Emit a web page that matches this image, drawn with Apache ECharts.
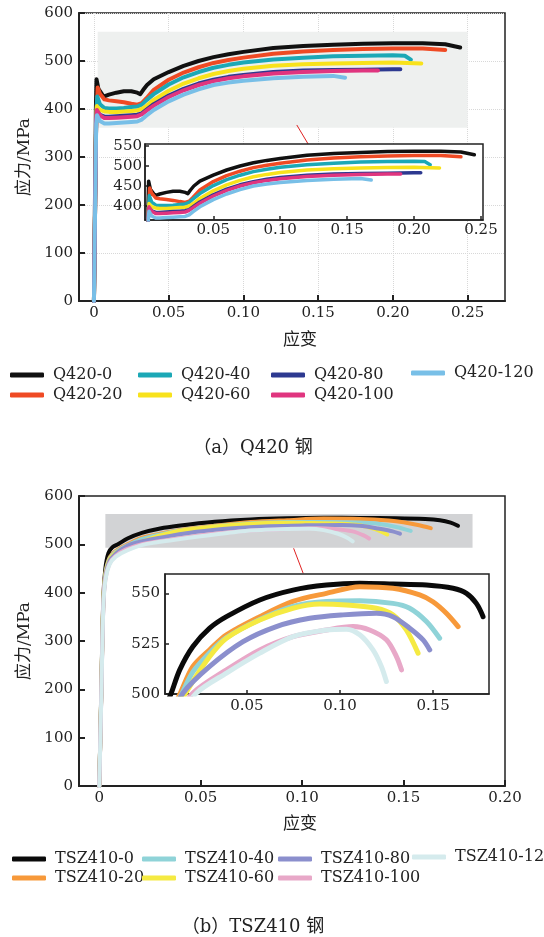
<!DOCTYPE html>
<html><head><meta charset="utf-8">
<script src="https://cdn.jsdelivr.net/npm/echarts@6/dist/echarts.min.js"></script>
<style>html,body{margin:0;padding:0;background:#fff}#c{width:544px;height:937px}</style>
</head><body><div id="c"></div>
<script>
// ---------- DATA : panel (a) Q420 ----------
const namesA = ['Q420-0','Q420-20','Q420-40','Q420-60','Q420-80','Q420-100','Q420-120'];
const q420_0 = [[0,0],[0.0013,400],[0.0017,462],[0.003,442],[0.0065,426],[0.01,430],[0.015,434],[0.02,437],[0.025,437],[0.029,434],[0.031,431],[0.033,440],[0.0355,450],[0.04,462],[0.05,477],[0.06,490],[0.07,500],[0.08,508],[0.09,514],[0.10,519],[0.12,527],[0.14,531],[0.16,534],[0.18,536],[0.20,537],[0.22,537],[0.235,535],[0.245,528]];
const q420_20 = [[0,0],[0.0015,380],[0.0025,445],[0.004,432],[0.007,420],[0.01,418],[0.015,416],[0.02,414],[0.025,411],[0.029,409],[0.032,412],[0.035,422],[0.04,440],[0.05,461],[0.06,476],[0.07,487],[0.08,496],[0.09,502],[0.10,507],[0.12,515],[0.14,520],[0.16,523],[0.18,525],[0.20,526],[0.22,526],[0.235,523]];
const q420_40 = [[0,0],[0.0015,380],[0.0022,426],[0.004,410],[0.007,402],[0.01,401],[0.015,401],[0.02,402],[0.025,404],[0.029,405],[0.032,409],[0.035,418],[0.04,431],[0.05,451],[0.06,466],[0.07,477],[0.08,486],[0.09,492],[0.10,497],[0.12,503],[0.14,507],[0.16,510],[0.18,511],[0.20,512],[0.208,511],[0.212,503]];
const q420_60 = [[0,0],[0.0015,380],[0.002,406],[0.004,398],[0.007,395],[0.01,394],[0.015,394],[0.02,395],[0.025,396],[0.029,397],[0.032,400],[0.035,406],[0.04,419],[0.05,438],[0.06,453],[0.07,464],[0.08,473],[0.09,479],[0.10,484],[0.12,490],[0.14,493],[0.16,495],[0.18,496],[0.20,497],[0.219,495]];
const q420_80 = [[0,0],[0.0015,375],[0.002,395],[0.004,388],[0.007,384],[0.01,384],[0.015,385],[0.02,386],[0.025,387],[0.029,388],[0.032,391],[0.035,398],[0.04,410],[0.05,428],[0.06,442],[0.07,453],[0.08,461],[0.09,467],[0.10,471],[0.12,477],[0.14,480],[0.16,481],[0.18,482],[0.20,483],[0.205,483]];
const q420_100 = [[0,0],[0.0015,380],[0.002,398],[0.004,387],[0.007,381],[0.01,381],[0.015,382],[0.02,383],[0.025,384],[0.029,385],[0.032,389],[0.035,396],[0.04,407],[0.05,425],[0.06,439],[0.07,450],[0.08,458],[0.09,464],[0.10,468],[0.12,474],[0.14,477],[0.16,479],[0.18,480],[0.19,480]];
const q420_120 = [[0,0],[0.0015,370],[0.002,387],[0.004,375],[0.007,370],[0.01,370],[0.015,371],[0.02,372],[0.025,373],[0.029,374],[0.032,378],[0.035,386],[0.04,398],[0.05,416],[0.06,430],[0.07,441],[0.08,450],[0.09,455],[0.10,459],[0.12,464],[0.14,467],[0.16,469],[0.168,465]];
const dataA = [q420_0,q420_20,q420_40,q420_60,q420_80,q420_100,q420_120];

// ---------- DATA : panel (b) TSZ410 ----------
const namesB = ['TSZ410-0','TSZ410-20','TSZ410-40','TSZ410-60','TSZ410-80','TSZ410-100','TSZ410-120'];
const tsz_0 = [[0,0],[0.001,200],[0.002,390],[0.003,450],[0.0045,482],[0.0065,494],[0.0094,500.5],[0.0139,512],[0.021,523.6],[0.030,532.7],[0.039,538.4],[0.0569,546.7],[0.0747,551.6],[0.0927,554.1],[0.1106,555],[0.1284,554.6],[0.1464,554.1],[0.1607,552.5],[0.1679,550],[0.1732,545],[0.1768,538.4]];
const tsz_20 = [[0,0],[0.001,195],[0.002,385],[0.003,440],[0.005,472],[0.008,486],[0.011,494],[0.0145,501],[0.021,513.7],[0.030,522],[0.039,529.4],[0.0569,538.4],[0.0747,546],[0.0927,550],[0.1106,553.3],[0.1284,552.5],[0.1428,549.2],[0.1499,545.8],[0.1571,540.1],[0.1634,533.5]];
const tsz_40 = [[0,0],[0.001,195],[0.002,380],[0.003,438],[0.005,470],[0.008,484],[0.011,492],[0.015,500],[0.021,511],[0.030,520.5],[0.039,528],[0.0569,537],[0.0747,543.5],[0.0927,546],[0.1106,546.3],[0.1284,545],[0.1374,542.6],[0.1464,536],[0.1535,527.7]];
const tsz_60 = [[0,0],[0.001,195],[0.002,380],[0.003,435],[0.005,468],[0.008,482],[0.012,492],[0.0193,503.8],[0.030,518.6],[0.039,527.7],[0.0569,536.8],[0.0747,542.6],[0.0891,544.7],[0.1034,544.2],[0.1195,542.6],[0.1284,539.3],[0.1356,531.8],[0.1419,520.3]];
const tsz_80 = [[0,0],[0.001,190],[0.002,375],[0.003,432],[0.005,465],[0.008,480],[0.011,490],[0.0157,500.5],[0.030,513.7],[0.0479,526],[0.0658,533.5],[0.0837,537.6],[0.1016,539.3],[0.1195,540.1],[0.1284,538.4],[0.1374,532.7],[0.1446,526.9],[0.1482,521.9]];
const tsz_100 = [[0,0],[0.001,190],[0.002,372],[0.003,428],[0.005,460],[0.008,476],[0.013,489],[0.021,500.5],[0.039,512],[0.0569,521.9],[0.0747,528.5],[0.0927,531.8],[0.107,533.5],[0.1159,531.8],[0.1249,526.9],[0.1303,518.6],[0.133,512]];
const tsz_120 = [[0,0],[0.001,185],[0.002,370],[0.003,425],[0.005,458],[0.008,474],[0.014,488],[0.0229,500.5],[0.039,510.4],[0.0569,520.3],[0.0747,528.5],[0.0927,531.8],[0.1034,532.2],[0.1106,529.4],[0.1177,521.9],[0.1222,513.7],[0.1249,506.2]];
const dataB = [tsz_0,tsz_20,tsz_40,tsz_60,tsz_80,tsz_100,tsz_120];

// ---------- TICKS / ANNOTATIONS ----------
const xTicksA = [0,0.05,0.10,0.15,0.20,0.25];
const yTicksA = [0,100,200,300,400,500,600];
const insetXTicksA = [0.05,0.10,0.15,0.20,0.25];
const insetYTicksA = [400,450,500,550];
const xTicksB = [0,0.05,0.10,0.15,0.20];
const yTicksB = [0,100,200,300,400,500,600];
const insetXTicksB = [0.05,0.10,0.15];
const insetYTicksB = [500,525,550];
const zoomBoxA = [[0.0025,361],[0.25,561]];
const zoomBoxB = [[0.003,493],[0.184,563]];
const connectorA = [[0.1357,366.7],[0.1433,327]];
const connectorB = [[0.0958,491.8],[0.1005,440.1]];
const axisTitleX = '应变';
const axisTitleY = '应力/MPa';
const captionA = '（a）Q420 钢';
const captionB = '（b）TSZ410 钢';

// ---------- STYLES ----------
const colorsA = ['#111111','#ef4a24','#1ca8b6','#f8e21c','#2d3990','#e0357f','#78bfe7'];
const colorsB = ['#0a0a0a','#f7993a','#8fd3d8','#f5ea42','#8b8fcd','#e8a8c8','#d5ebed'];
const SERIF = "'DejaVu Serif'";
const MIXED = "'DejaVu Serif','Noto Sans CJK SC'";
const INK = '#222';

const fmtX = v => v === 0 ? '0' : v.toFixed(2);

function xAxisCfg(grid, min, max, ticks, opts) {
  opts = opts || {};
  return {
    gridIndex: grid, type: 'value', min: min, max: max, z: opts.z || 1,
    axisLine: {show: true, onZero: false, lineStyle: {color: INK, width: opts.lw || 2}},
    axisTick: {show: true, inside: true, length: opts.tl || 6, customValues: ticks, lineStyle: {color: INK, width: opts.lw || 2}},
    axisLabel: {customValues: ticks, formatter: fmtX, margin: opts.margin || 5, color: INK, fontFamily: SERIF, fontSize: 15},
    splitLine: {show: !!opts.split, lineStyle: {color: '#d8d8d8', type: 'dotted', width: 1}},
    name: opts.name || '', nameLocation: 'middle', nameGap: opts.nameGap || 30,
    nameTextStyle: {fontFamily: MIXED, fontSize: 17, color: INK, padding: [0, 0, 0, 16]}
  };
}
function yAxisCfg(grid, min, max, ticks, opts) {
  opts = opts || {};
  return {
    gridIndex: grid, type: 'value', min: min, max: max, z: opts.z || 1,
    axisLine: {show: true, onZero: false, lineStyle: {color: INK, width: opts.lw || 2}},
    axisTick: {show: true, inside: true, length: opts.tl || 6, customValues: ticks, lineStyle: {color: INK, width: opts.lw || 2}},
    axisLabel: {customValues: ticks, margin: opts.margin || 6, color: INK, fontFamily: SERIF, fontSize: 15},
    splitLine: {show: !!opts.split, lineStyle: {color: '#d8d8d8', type: 'dotted', width: 1}},
    name: opts.name || '', nameLocation: 'middle', nameGap: opts.nameGap || 46, nameRotate: 90,
    nameTextStyle: {fontFamily: MIXED, fontSize: 17, color: INK}
  };
}

const grids = [
  {left: 79, top: 13, width: 426, height: 288, show: true, borderColor: INK, borderWidth: 1.5, backgroundColor: 'transparent'},
  {left: 145, top: 144, width: 338, height: 76, show: true, borderColor: INK, borderWidth: 1.5, backgroundColor: '#fff', z: 10},
  {left: 79, top: 496, width: 426, height: 290, show: true, borderColor: INK, borderWidth: 1.5, backgroundColor: 'transparent'},
  {left: 165, top: 574, width: 324, height: 120, show: true, borderColor: INK, borderWidth: 1.5, backgroundColor: '#fff', z: 10}
];

const xAxes = [
  xAxisCfg(0, -0.01, 0.275, xTicksA, {split: true, name: axisTitleX, nameGap: 31}),
  xAxisCfg(1, -0.001, 0.2515, insetXTicksA, {z: 11, tl: 4, lw: 1.5, margin: 3}),
  xAxisCfg(2, -0.01, 0.20, xTicksB, {split: false, name: axisTitleX, nameGap: 30}),
  xAxisCfg(3, 0.006, 0.18, insetXTicksB, {z: 11, tl: 4, lw: 1.5, margin: 5})
];
const yAxes = [
  yAxisCfg(0, 0, 600, yTicksA, {split: true, name: axisTitleY, nameGap: 46}),
  yAxisCfg(1, 365, 555, insetYTicksA, {z: 11, tl: 4, lw: 1.5, margin: 3}),
  yAxisCfg(2, 0, 600, yTicksB, {split: false, name: axisTitleY, nameGap: 46}),
  yAxisCfg(3, 500, 559.6, insetYTicksB, {z: 11, tl: 4, lw: 1.5, margin: 5})
];

const series = [];
function helper(axisIdx, box, conn) {
  series.push({
    type: 'line', xAxisIndex: axisIdx, yAxisIndex: axisIdx, data: [], z: 0, silent: true,
    markArea: {silent: true, itemStyle: {color: axisIdx === 0 ? '#eef0ef' : '#d2d3d5'},
      data: [[{coord: box[0]}, {coord: box[1]}]]},
    markLine: {silent: true, symbol: 'none', label: {show: false},
      lineStyle: {color: '#e02222', width: 1, type: 'solid'},
      data: [[{coord: conn[0]}, {coord: conn[1]}]]}
  });
}
helper(0, zoomBoxA, connectorA);
helper(2, zoomBoxB, connectorB);

function addCurves(names, datas, colors, axisIdx, width, z, smooth) {
  names.forEach((n, i) => {
    series.push({
      type: 'line', name: n, xAxisIndex: axisIdx, yAxisIndex: axisIdx, data: datas[i],
      showSymbol: false, symbol: 'none', z: z, clip: true,
      smooth: smooth || false,
      lineStyle: {color: colors[i], width: width, cap: 'round', join: 'round'},
      itemStyle: {color: colors[i]}
    });
  });
}
addCurves(namesA, dataA, colorsA, 0, 4, 2, false);
addCurves(namesA, dataA, colorsA, 1, 3.5, 12, false);
addCurves(namesB, dataB, colorsB, 2, 4, 2, 0.3);
addCurves(namesB, dataB, colorsB, 3, 5, 12, 0.3);

function legendCol(names, left, top, gap) {
  return {
    data: names, left: left, top: top, orient: 'vertical', padding: 0, itemGap: gap,
    itemWidth: 34, itemHeight: 5, icon: 'roundRect', selectedMode: false,
    textStyle: {fontFamily: SERIF, fontSize: 16, color: INK, lineHeight: 18, padding: [0, 0, 0, 4]}
  };
}
const legends = [
  legendCol([namesA[0], namesA[1]], 10, 366, 2),
  legendCol([namesA[2], namesA[3]], 138, 366, 2),
  legendCol([namesA[4], namesA[5]], 271, 366, 2),
  legendCol([namesA[6]], 411, 364, 2),
  legendCol([namesB[0], namesB[1]], 12, 850, 1),
  legendCol([namesB[2], namesB[3]], 142, 850, 1),
  legendCol([namesB[4], namesB[5]], 278, 850, 1),
  legendCol([namesB[6]], 412, 848, 1)
];

const chart = echarts.init(document.getElementById('c'), null, {renderer: 'canvas'});
chart.setOption({
  backgroundColor: '#fff',
  animation: false,
  grid: grids,
  xAxis: xAxes,
  yAxis: yAxes,
  legend: legends,
  series: series,
  graphic: [
    {type: 'text', x: 253, y: 448, style: {text: captionA, font: "18px 'DejaVu Serif','Noto Sans CJK SC'", fill: INK, textAlign: 'center', textVerticalAlign: 'middle'}},
    {type: 'text', x: 253, y: 927, style: {text: captionB, font: "18px 'DejaVu Serif','Noto Sans CJK SC'", fill: INK, textAlign: 'center', textVerticalAlign: 'middle'}}
  ]
});
</script></body></html>
